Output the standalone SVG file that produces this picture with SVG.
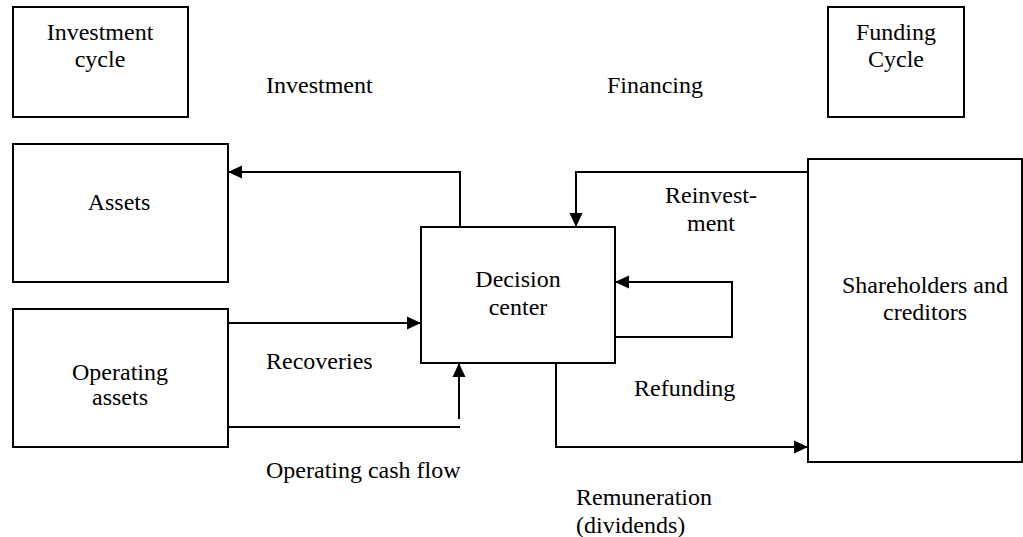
<svg xmlns="http://www.w3.org/2000/svg" width="1023" height="537" viewBox="0 0 1023 537">
<style>
.box{fill:#fff;stroke:#000;stroke-width:2}
.t{font-family:"Liberation Serif","Times New Roman",serif;font-size:24px;fill:#000}
.c{text-anchor:middle}
.ln{fill:none;stroke:#000;stroke-width:2}
</style>
<defs>
<marker id="ah" markerUnits="userSpaceOnUse" markerWidth="14" markerHeight="14" viewBox="0 0 14 14" refX="14" refY="7" orient="auto">
<path d="M0,0.5 L14,7 L0,13.5 Z" fill="#000"/>
</marker>
</defs>
<rect width="1023" height="537" fill="#fff"/>
<g id="investment-cycle">
<rect class="box" x="13" y="7" width="175" height="110"/>
<text class="t c" x="100" y="40">Investment</text>
<text class="t c" x="100" y="67">cycle</text>
</g>
<g id="funding-cycle">
<rect class="box" x="828" y="7" width="136" height="110"/>
<text class="t c" x="896" y="40">Funding</text>
<text class="t c" x="896" y="67">Cycle</text>
</g>
<g id="assets">
<rect class="box" x="13" y="144" width="215" height="138"/>
<text class="t c" x="119" y="210">Assets</text>
</g>
<g id="operating-assets">
<rect class="box" x="13" y="309" width="215" height="138"/>
<text class="t c" x="120" y="380">Operating</text>
<text class="t c" x="120" y="405">assets</text>
</g>
<g id="decision-center">
<rect class="box" x="421" y="227" width="194" height="136"/>
<text class="t c" x="518" y="287">Decision</text>
<text class="t c" x="518" y="315">center</text>
</g>
<g id="shareholders">
<rect class="box" x="808" y="159" width="214" height="303"/>
<text class="t c" x="925" y="293">Shareholders and</text>
<text class="t c" x="925" y="320">creditors</text>
</g>
<g id="connectors">
<path class="ln" d="M460,227 V172 H228" marker-end="url(#ah)"/>
<path class="ln" d="M808,172 H576 V227" marker-end="url(#ah)"/>
<path class="ln" d="M615,337 H732 V282 H615" marker-end="url(#ah)"/>
<path class="ln" d="M228,323 H421" marker-end="url(#ah)"/>
<path class="ln" d="M228,427 H460"/>
<path class="ln" d="M459,419 V363" marker-end="url(#ah)"/>
<path class="ln" d="M556,363 V447 H808" marker-end="url(#ah)"/>
</g>
<g id="labels">
<text class="t" x="266" y="93">Investment</text>
<text class="t" x="607" y="93">Financing</text>
<text class="t c" x="711" y="203">Reinvest-</text>
<text class="t c" x="711" y="231">ment</text>
<text class="t" x="266" y="369">Recoveries</text>
<text class="t" x="634" y="396">Refunding</text>
<text class="t" x="266" y="478">Operating cash flow</text>
<text class="t" x="576" y="505">Remuneration</text>
<text class="t" x="576" y="533">(dividends)</text>
</g>
</svg>
